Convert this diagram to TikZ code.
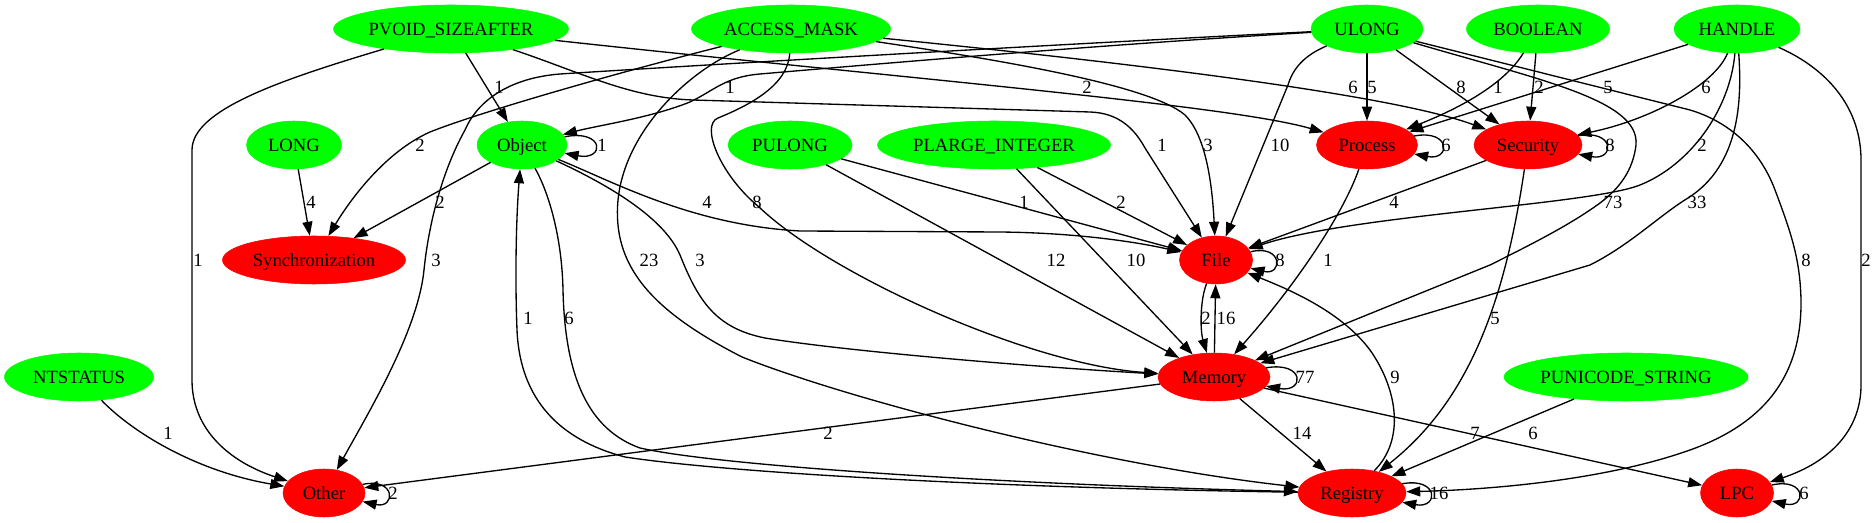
\documentclass[tikz,border=0pt]{standalone}
\usepackage{fontspec}
\setmainfont{Liberation Serif}
\usetikzlibrary{arrows.meta,shapes.geometric}
\newcommand{\gvfont}{\fontsize{14pt}{16pt}\selectfont}
\begin{document}
\begin{tikzpicture}[x=0.75pt,y=-0.75pt,
  nd/.style={ellipse, minimum height=36pt, inner sep=0pt, text height=9.5pt, text depth=0pt, font=\gvfont},
  gn/.style={nd, fill=green, draw=green},
  rn/.style={nd, fill=red, draw=red},
  e/.style={draw=black, line width=1pt, -{Triangle[length=10.5pt,width=7.5pt]}},
  lb/.style={inner sep=0pt, font=\gvfont}]
\useasboundingbox (0,0) rectangle (1876,523);
% nodes
\node[gn, minimum width=176.25pt] (pvoid) at (451,29) {PVOID\_SIZEAFTER};
\node[gn, minimum width=149.25pt] (access) at (791,29) {ACCESS\_MASK};
\node[gn, minimum width=84pt] (ulong) at (1367,29) {ULONG};
\node[gn, minimum width=107.25pt] (boolean) at (1538,29) {BOOLEAN};
\node[gn, minimum width=94.5pt] (handle) at (1737,29) {HANDLE};
\node[gn, minimum width=71.25pt] (long) at (294,145) {LONG};
\node[gn, minimum width=67.5pt] (object) at (522,145) {Object};
\node[gn, minimum width=93pt] (pulong) at (790,145) {PULONG};
\node[gn, minimum width=174.75pt] (plarge) at (994,145) {PLARGE\_INTEGER};
\node[rn, minimum width=75.75pt] (process) at (1367,145) {Process};
\node[rn, minimum width=81pt] (security) at (1528,145) {Security};
\node[rn, minimum width=137.25pt] (sync) at (314,260) {Synchronization};
\node[rn, minimum width=54.75pt] (file) at (1216,260) {File};
\node[gn, minimum width=111.75pt] (ntstatus) at (79,377) {NTSTATUS};
\node[rn, minimum width=84pt] (memory) at (1214,377) {Memory};
\node[gn, minimum width=183pt] (punicode) at (1626,377) {PUNICODE\_STRING};
\node[rn, minimum width=61.5pt] (other) at (324,493) {Other};
\node[rn, minimum width=81pt] (registry) at (1352,493) {Registry};
\node[rn, minimum width=54.75pt] (lpc) at (1737,493) {LPC};
% edges
\draw[e] (pvoid) .. controls (280,80) and (192,110) .. (192,150) -- (192,380) .. controls (192,430) and (230,462) .. (other);
\draw[e] (pvoid) -- (object);
\draw[e] (pvoid) .. controls (580,72) and (630,98) .. (693,100) -- (1090,112) .. controls (1120,113) and (1135,130) .. (1145,148) -- (file);
\draw[e] (pvoid) .. controls (900,78) and (1230,105) .. (process);
\draw[e] (access) .. controls (620,72) and (480,112) .. (430,132) .. controls (385,152) and (350,200) .. (sync);
\draw[e] (access) .. controls (788,85) and (750,105) .. (718,118) .. controls (700,125) and (720,175) .. (759,207) .. controls (830,275) and (1030,365) .. (memory);
\draw[e] (access) .. controls (690,70) and (625,130) .. (618,200) .. controls (612,265) and (650,310) .. (742,357) .. controls (850,400) and (1100,465) .. (registry);
\draw[e] (access) .. controls (1000,60) and (1150,85) .. (1185,115) .. controls (1205,135) and (1212,180) .. (file);
\draw[e] (access) .. controls (1050,55) and (1380,90) .. (security);
\draw[e] (ulong) .. controls (1100,45) and (900,62) .. (760,74) .. controls (725,77) and (715,90) .. (690,102) .. controls (650,118) and (600,125) .. (object);
\draw[e] (ulong) .. controls (1100,42) and (700,65) .. (560,74) .. controls (510,78) and (478,100) .. (465,130) .. controls (440,175) and (428,230) .. (424,270) .. controls (418,330) and (370,410) .. (other);
\draw[e] (ulong) .. controls (1305,55) and (1293,68) .. (1288,85) -- (file);
\draw[e] (ulong) -- (process);
\draw[e] (ulong) -- (security);
\draw[e] (ulong) .. controls (1540,80) and (1640,100) .. (1636,145) .. controls (1633,170) and (1620,188) .. (1600,203) .. controls (1570,225) and (1530,245) .. (1490,265) -- (memory);
\draw[e] (ulong) -- (1690,110) .. controls (1730,122) and (1760,150) .. (1775,190) .. controls (1792,235) and (1800,260) .. (1801,300) .. controls (1802,380) and (1760,425) .. (1690,450) .. controls (1600,482) and (1480,490) .. (registry);
\draw[e] (boolean) .. controls (1510,75) and (1480,100) .. (process);
\draw[e] (boolean) -- (security);
\draw[e] (handle) -- (process);
\draw[e] (handle) .. controls (1715,85) and (1650,120) .. (security);
\draw[e] (handle) .. controls (1730,110) and (1690,165) .. (1640,185) .. controls (1590,205) and (1350,215) .. (file);
\draw[e] (handle) .. controls (1742,100) and (1740,165) .. (1688,198) .. controls (1660,215) and (1630,245) .. (1590,265) -- (memory);
\draw[e] (handle) .. controls (1830,70) and (1861,110) .. (1861,160) -- (1861,385) .. controls (1861,430) and (1830,462) .. (lpc);
\draw[e] (long) -- (sync);
\draw[e] (object) .. controls (605,129) and (605,161) .. (object);
\draw[e] (object) -- (sync);
\draw[e] (object) .. controls (610,180) and (690,225) .. (800,231) -- (1000,232) .. controls (1090,233) and (1150,245) .. (file);
\draw[e] (object) .. controls (615,188) and (665,220) .. (680,255) .. controls (698,300) and (715,328) .. (765,338) .. controls (850,352) and (1050,368) .. (memory);
\draw[e] (object) .. controls (550,195) and (562,240) .. (563,290) .. controls (565,380) and (590,430) .. (640,448) .. controls (720,466) and (1000,484) .. (registry);
\draw[e] (registry) .. controls (1000,488) and (730,473) .. (625,457) .. controls (560,440) and (520,400) .. (517,330) .. controls (515,280) and (516,220) .. (object);
\draw[e] (pulong) -- (file);
\draw[e] (pulong) -- (memory);
\draw[e] (plarge) -- (file);
\draw[e] (plarge) -- (memory);
\draw[e] (process) .. controls (1451,129) and (1451,161) .. (process);
\draw[e] (process) .. controls (1345,210) and (1300,280) .. (memory);
\draw[e] (security) .. controls (1615,129) and (1615,161) .. (security);
\draw[e] (security) -- (file);
\draw[e] (security) .. controls (1505,300) and (1470,400) .. (registry);
\draw[e] (file) .. controls (1283,244) and (1283,276) .. (file);
\draw[e] (file) .. controls (1200,300) and (1200,330) .. (memory);
\draw[e] (memory) -- (file);
\draw[e] (memory) .. controls (1305,361) and (1305,393) .. (memory);
\draw[e] (memory) -- (other);
\draw[e] (memory) -- (registry);
\draw[e] (memory) -- (lpc);
\draw[e] (registry) .. controls (1405,440) and (1398,390) .. (1370,350) .. controls (1340,310) and (1285,288) .. (file);
\draw[e] (registry) .. controls (1439,477) and (1439,509) .. (registry);
\draw[e] (ntstatus) .. controls (135,435) and (200,472) .. (other);
\draw[e] (punicode) -- (registry);
\draw[e] (other) .. controls (396,477) and (396,509) .. (other);
\draw[e] (lpc) .. controls (1807,477) and (1807,509) .. (lpc);
% labels
\node[lb] (l01) at (198,260) {1};
\node[lb] (l02) at (499,87) {1};
\node[lb] (l03) at (1162,145) {1};
\node[lb] (l04) at (1087,87) {2};
\node[lb] (l05) at (420,145) {2};
\node[lb] (l06) at (757,202) {8};
\node[lb] (l07) at (649,260) {23};
\node[lb] (l08) at (1208,145) {3};
\node[lb] (l09) at (1353,87) {6};
\node[lb] (l10) at (730,87) {1};
\node[lb] (l11) at (436,260) {3};
\node[lb] (l12) at (1280,145) {10};
\node[lb] (l13) at (1372,87) {5};
\node[lb] (l14) at (1461,87) {8};
\node[lb] (l15) at (1613,202) {73};
\node[lb] (l16) at (1806,260) {8};
\node[lb] (l17) at (1498,87) {1};
\node[lb] (l18) at (1539,87) {2};
\node[lb] (l19) at (1608,87) {5};
\node[lb] (l20) at (1706,87) {6};
\node[lb] (l21) at (1702,145) {2};
\node[lb] (l22) at (1697,202) {33};
\node[lb] (l23) at (1866,260) {2};
\node[lb] (l24) at (311,202) {4};
\node[lb] (l25) at (602,145) {1};
\node[lb] (l26) at (440,202) {2};
\node[lb] (l27) at (707,202) {4};
\node[lb] (l28) at (700,260) {3};
\node[lb] (l29) at (569,318) {6};
\node[lb] (l30) at (528,318) {1};
\node[lb] (l31) at (1024,202) {1};
\node[lb] (l32) at (1056,260) {12};
\node[lb] (l33) at (1121,202) {2};
\node[lb] (l34) at (1136,260) {10};
\node[lb] (l35) at (1446,145) {6};
\node[lb] (l36) at (1328,260) {1};
\node[lb] (l37) at (1610,145) {8};
\node[lb] (l38) at (1394,202) {4};
\node[lb] (l39) at (1495,318) {5};
\node[lb] (l40) at (1280,260) {8};
\node[lb] (l41) at (1206,318) {2};
\node[lb] (l42) at (1226,318) {16};
\node[lb] (l43) at (1305,377) {77};
\node[lb] (l44) at (828,433) {2};
\node[lb] (l45) at (1302,433) {14};
\node[lb] (l46) at (1475,433) {7};
\node[lb] (l47) at (1395,377) {9};
\node[lb] (l48) at (1439,493) {16};
\node[lb] (l49) at (168,433) {1};
\node[lb] (l50) at (1533,433) {6};
\node[lb] (l51) at (393,493) {2};
\node[lb] (l52) at (1804,493) {6};
\end{tikzpicture}
\end{document}
